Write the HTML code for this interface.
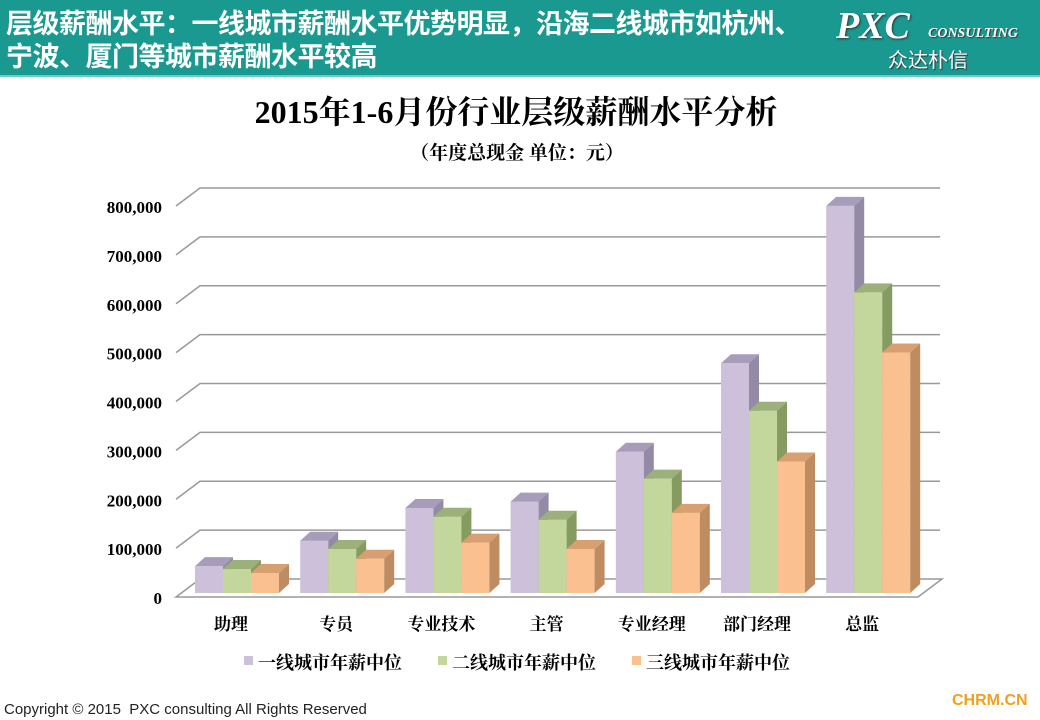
<!DOCTYPE html>
<html><head><meta charset="utf-8"><style>
body{margin:0;width:1040px;height:720px;background:#fff;overflow:hidden;font-family:"Liberation Sans","Noto Sans CJK SC",sans-serif;position:relative}
#hdr{position:absolute;left:0;top:0;width:1040px;height:75px;background:#1a9990;border-bottom:2px solid #6cc;}
#hdr .t{position:absolute;left:6px;top:5px;color:#fff;font-size:27px;font-weight:bold;line-height:33px;font-family:"Noto Sans CJK SC",sans-serif;letter-spacing:-0.5px;white-space:nowrap}
.logo{position:absolute;left:836px;top:4px;color:#fff;font-family:"Liberation Serif",serif;font-style:italic;font-weight:bold;font-size:38px;text-shadow:1px 1px 2px #333}
.logo2{position:absolute;left:928px;top:26px;color:#fff;font-family:"Liberation Serif",serif;font-style:italic;font-weight:bold;font-size:14px;text-shadow:1px 1px 1px #333}
.logo3{position:absolute;left:888px;top:44px;color:#fff;font-size:20px;font-family:"Noto Sans CJK SC",sans-serif;text-shadow:1px 1px 1px #333}
</style></head><body>
<div id="hdr">
<div class="t">层级薪酬水平：一线城市薪酬水平优势明显，沿海二线城市如杭州、<br>宁波、厦门等城市薪酬水平较高</div>
<div class="logo">PXC</div>
<div class="logo2">CONSULTING</div>
<div class="logo3">众达朴信</div>
</div>
<svg id="c" width="1040" height="720" style="position:absolute;left:0;top:0"></svg>
<div style="position:absolute;left:4px;top:701px;font-size:15px;color:#222">Copyright © 2015&nbsp; PXC consulting All Rights Reserved</div>
<div style="position:absolute;left:952px;top:692px;font-size:16px;font-weight:bold;color:#f0a020">CHRM.CN</div>
<script>
const categories=["助理","专员","专业技术","主管","专业经理","部门经理","总监"];
const series1=[55000,107000,174000,187000,289000,470000,792000];
const series2=[49000,90000,156000,150000,234000,373000,615000];
const series3=[41000,70000,103000,90000,164000,269000,492000];
const seriesNames=["一线城市年薪中位","二线城市年薪中位","三线城市年薪中位"];
const yTicks=[0,100000,200000,300000,400000,500000,600000,700000,800000];
const yTickLabels=["0","100,000","200,000","300,000","400,000","500,000","600,000","700,000","800,000"];

const NS="http://www.w3.org/2000/svg";
const svg=document.getElementById('c');
function mk(t,a,txt){const e=document.createElementNS(NS,t);for(const k in a)e.setAttribute(k,a[k]);if(txt!==undefined)e.textContent=txt;svg.appendChild(e);return e;}
const yF=v=>597-v*391/800000;
const DX=24,DY=-18;
const xC=i=>231+i*105.2;

let e=mk('text',{x:516,y:123,'text-anchor':'middle','font-size':32,'font-weight':'bold',fill:'#000','font-family':'"Liberation Serif","Noto Serif CJK SC",serif'},'2015年1-6月份行业层级薪酬水平分析');


e=mk('text',{x:517,y:159,'text-anchor':'middle','font-size':19,'font-weight':'bold',fill:'#000','font-family':'"Noto Serif CJK SC",serif'},'（年度总现金  单位：元）');



e=mk('polygon',{points:`176,597 918,597 ${918+DX},${597+DY} ${176+DX},${597+DY}`,fill:'#fff',stroke:'#999','stroke-width':1.5});


yTicks.forEach((t,i)=>{
  const y=yF(t);
  if(i>0){
    const g=mk('polyline',{points:`176,${y} ${176+DX},${y+DY} 940,${y+DY}`,fill:'none',stroke:'#999','stroke-width':1.5});
    
    
  }
  const l=mk('text',{x:162,y:y+7,'text-anchor':'end','font-size':17,'font-weight':'bold',fill:'#000','font-family':'"Liberation Serif",serif'},yTickLabels[i]);
  
  
});
const cols=[["#ccc0da","#a89cbb","#948aa6"],["#c3d69b","#9bb07a","#869b60"],["#fac090","#d8a070","#be8c60"]];
const BW=28,bx=10,by=-9;
[series1,series2,series3].forEach((s,si)=>{
  s.forEach((v,i)=>{
    const x=xC(i)-36+si*BW, y=yF(v)-4, yb=593;
    const f=mk('rect',{x:x,y:y,width:BW,height:yb-y,fill:cols[si][0]});
    
    
    const t=mk('polygon',{points:`${x},${y} ${x+BW},${y} ${x+BW+bx},${y+by} ${x+bx},${y+by}`,fill:cols[si][1]});
    
    
    const sd=mk('polygon',{points:`${x+BW},${y} ${x+BW+bx},${y+by} ${x+BW+bx},${yb+by} ${x+BW},${yb}`,fill:cols[si][2]});
    
    
  });
});
categories.forEach((c,i)=>{
  const l=mk('text',{x:xC(i),y:630,'text-anchor':'middle','font-size':17,'font-weight':'bold',fill:'#000','font-family':'"Noto Serif CJK SC",serif'},c);
  
  
});
const lx=[244,438,632];
seriesNames.forEach((n,i)=>{
  const r=mk('rect',{x:lx[i],y:656,width:9,height:9,fill:cols[i][0]});
  
  
  const t=mk('text',{x:lx[i]+14,y:669,'font-size':18,'font-weight':'bold',fill:'#000','font-family':'"Noto Serif CJK SC",serif'},n);
  
  
});
</script>
</body></html>
